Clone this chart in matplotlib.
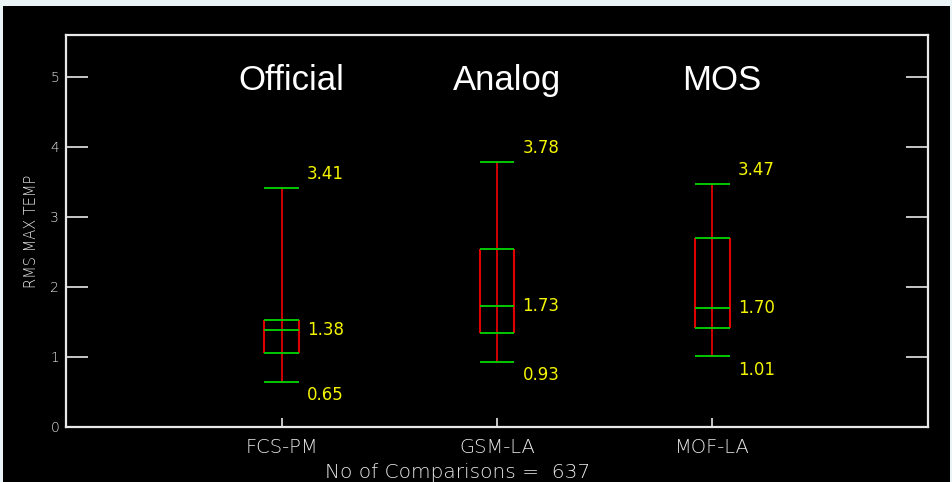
import matplotlib
matplotlib.use("Agg")
import matplotlib.pyplot as plt
from matplotlib.patches import Rectangle

# Forecast sources and RMS max-temperature error summaries
categories = ["FCS-PM", "GSM-LA", "MOF-LA"]
group_titles = ["Official", "Analog", "MOS"]
whisker_low = [0.65, 0.93, 1.01]
quartile_1 = [1.06, 1.35, 1.42]
medians = [1.38, 1.73, 1.70]
quartile_3 = [1.53, 2.54, 2.70]
whisker_high = [3.41, 3.78, 3.47]
n_comparisons = 637
y_ticks = [0, 1, 2, 3, 4, 5]

RED = "#e00000"
GREEN = "#00c800"
YELLOW = "#f5f500"
FG = "#e8e8e8"
EDGE = "#eaf3f6"

fig = plt.figure(figsize=(9.53, 4.82), dpi=100, facecolor="black")
# light margins along the top and side edges of the black panel
for (x0, y0, w, h) in [(0, 476, 953, 6), (0, 0, 3, 482), (950, 0, 3, 482)]:
    fig.patches.append(Rectangle((x0 / 953, y0 / 482), w / 953, h / 482,
                                 transform=fig.transFigure, facecolor=EDGE,
                                 edgecolor="none"))

ax = fig.add_axes([66 / 953, 55 / 482, 862 / 953, 392 / 482])
ax.set_facecolor("black")
ax.set_xlim(0, 4)
ax.set_ylim(0, 5.6)

positions = [1, 2, 3]
half_w = 0.081

for i, p in enumerate(positions):
    # full-length whisker through the box
    ax.vlines(p, whisker_low[i], whisker_high[i], color=RED, lw=1.3, zorder=3)
    # box sides
    ax.vlines([p - half_w, p + half_w], quartile_1[i], quartile_3[i],
              color=RED, lw=1.5, zorder=3)
    # caps, quartiles and median
    ax.hlines([whisker_low[i], quartile_1[i], medians[i], quartile_3[i], whisker_high[i]],
              p - half_w, p + half_w, color=GREEN, lw=1.4, zorder=4)
    # value annotations
    tx = p + 0.118
    ax.text(tx, whisker_high[i] + 0.2, f"{whisker_high[i]:.2f}", color=YELLOW,
            fontsize=12, ha="left", va="center")
    ax.text(tx, medians[i], f"{medians[i]:.2f}", color=YELLOW,
            fontsize=12, ha="left", va="center")
    ax.text(tx, whisker_low[i] - 0.19, f"{whisker_low[i]:.2f}", color=YELLOW,
            fontsize=12, ha="left", va="center")
    ax.text(p + 0.045, 4.95, group_titles[i], color="white", fontsize=25,
            family="Liberation Sans", ha="center", va="center")

for side in ["left", "right", "top", "bottom"]:
    ax.spines[side].set_color(FG)
    ax.spines[side].set_linewidth(1.6)

ax.set_yticks(y_ticks)
ax.set_yticklabels([str(v) for v in y_ticks])
ax.tick_params(axis="y", which="both", direction="in", length=16, width=1.2,
               color=FG, labelcolor=FG, labelsize=10, pad=5,
               left=True, right=True, labelright=False)
ax.set_xticks(positions)
ax.set_xticklabels(categories)
ax.tick_params(axis="x", direction="in", length=6.5, width=1.2, color=FG,
               labelcolor=FG, labelsize=14, pad=8, top=False)
for lab in ax.get_xticklabels() + ax.get_yticklabels():
    lab.set_fontweight("light")

ax.set_ylabel("RMS MAX TEMP", color=FG, fontsize=10.5, fontweight="light", labelpad=8)
fig.text(458 / 953, 1 - 473 / 482, f"No of Comparisons =  {n_comparisons}",
         color=FG, fontsize=14.5, fontweight="light", ha="center", va="center")

fig.savefig("out.png", dpi=100, facecolor=fig.get_facecolor())
